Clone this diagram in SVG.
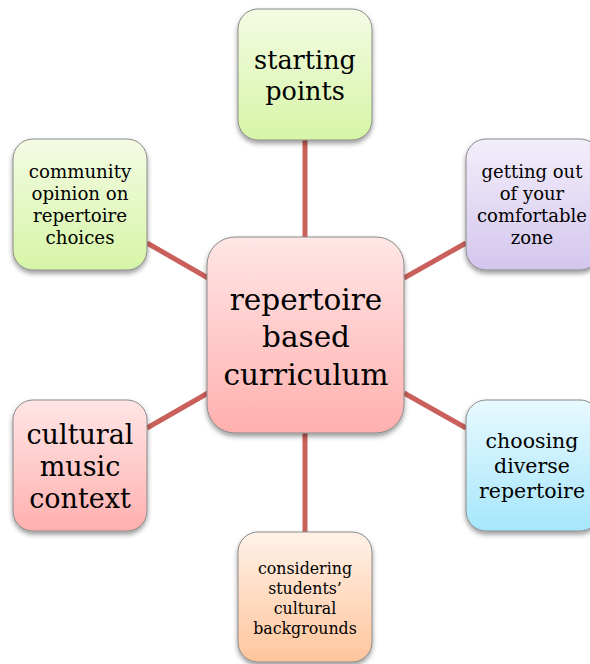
<svg xmlns="http://www.w3.org/2000/svg" width="590" height="664" viewBox="0 0 590 664">
<style>
.box{stroke:#8a8a8a;stroke-width:1;filter:url(#sh)}
.conn line{stroke:#c9605b;stroke-width:5}
text{font-family:"DejaVu Serif","Liberation Serif",serif;fill:#000;text-anchor:middle}
</style>
<defs>
<filter id="sh" x="-20%" y="-20%" width="140%" height="150%"><feDropShadow dx="0" dy="3" stdDeviation="2.5" flood-color="#000" flood-opacity="0.4"/></filter>
<linearGradient id="gRed" x1="0" y1="0" x2="0" y2="1"><stop offset="0" stop-color="#ffe6e6"/><stop offset="1" stop-color="#ffb0ae"/></linearGradient>
<linearGradient id="gGreen" x1="0" y1="0" x2="0" y2="1"><stop offset="0" stop-color="#f4fbe4"/><stop offset="1" stop-color="#d6f5a6"/></linearGradient>
<linearGradient id="gPurple" x1="0" y1="0" x2="0" y2="1"><stop offset="0" stop-color="#f3eefa"/><stop offset="1" stop-color="#d3c6ee"/></linearGradient>
<linearGradient id="gBlue" x1="0" y1="0" x2="0" y2="1"><stop offset="0" stop-color="#e8f9ff"/><stop offset="1" stop-color="#a6e6fb"/></linearGradient>
<linearGradient id="gOrange" x1="0" y1="0" x2="0" y2="1"><stop offset="0" stop-color="#fff2e8"/><stop offset="1" stop-color="#ffc59c"/></linearGradient>
</defs>
<rect width="590" height="664" fill="#fff"/>
<g id="connectors" class="conn">
<line x1="305" y1="140" x2="305" y2="238"/>
<line x1="305" y1="433" x2="305" y2="532"/>
<line x1="147" y1="243" x2="208" y2="278"/>
<line x1="404" y1="278" x2="466" y2="243"/>
<line x1="147" y1="428" x2="208" y2="393"/>
<line x1="404" y1="393" x2="466" y2="428"/>
</g>
<g id="center">
<rect class="box" x="207" y="237" width="197" height="196" rx="28" fill="url(#gRed)"/>
<text font-size="29.5"><tspan x="306" y="310">repertoire</tspan><tspan x="306" y="347">based</tspan><tspan x="306" y="385">curriculum</tspan></text>
</g>
<g id="starting">
<rect class="box" x="238" y="9" width="134" height="131" rx="20" fill="url(#gGreen)"/>
<text font-size="25.5"><tspan x="305" y="69">starting</tspan><tspan x="305" y="100">points</tspan></text>
</g>
<g id="getting-out">
<rect class="box" x="466" y="139" width="134" height="131" rx="20" fill="url(#gPurple)"/>
<text font-size="18"><tspan x="532" y="178">getting out</tspan><tspan x="532" y="200">of your</tspan><tspan x="532" y="222">comfortable</tspan><tspan x="532" y="244">zone</tspan></text>
</g>
<g id="community">
<rect class="box" x="13" y="139" width="134" height="131" rx="20" fill="url(#gGreen)"/>
<text font-size="18.2"><tspan x="80" y="178">community</tspan><tspan x="80" y="200">opinion on</tspan><tspan x="80" y="222">repertoire</tspan><tspan x="80" y="244">choices</tspan></text>
</g>
<g id="cultural">
<rect class="box" x="13" y="400" width="134" height="131" rx="20" fill="url(#gRed)"/>
<text font-size="27"><tspan x="80" y="444">cultural</tspan><tspan x="80" y="476">music</tspan><tspan x="80" y="508">context</tspan></text>
</g>
<g id="choosing">
<rect class="box" x="466" y="400" width="134" height="131" rx="20" fill="url(#gBlue)"/>
<text font-size="20.5"><tspan x="532" y="448">choosing</tspan><tspan x="532" y="473">diverse</tspan><tspan x="532" y="498">repertoire</tspan></text>
</g>
<g id="considering">
<rect class="box" x="238" y="532" width="134" height="130" rx="20" fill="url(#gOrange)"/>
<text font-size="15.8"><tspan x="305" y="574">considering</tspan><tspan x="305" y="594">students’</tspan><tspan x="305" y="614">cultural</tspan><tspan x="305" y="634">backgrounds</tspan></text>
</g>
</svg>
